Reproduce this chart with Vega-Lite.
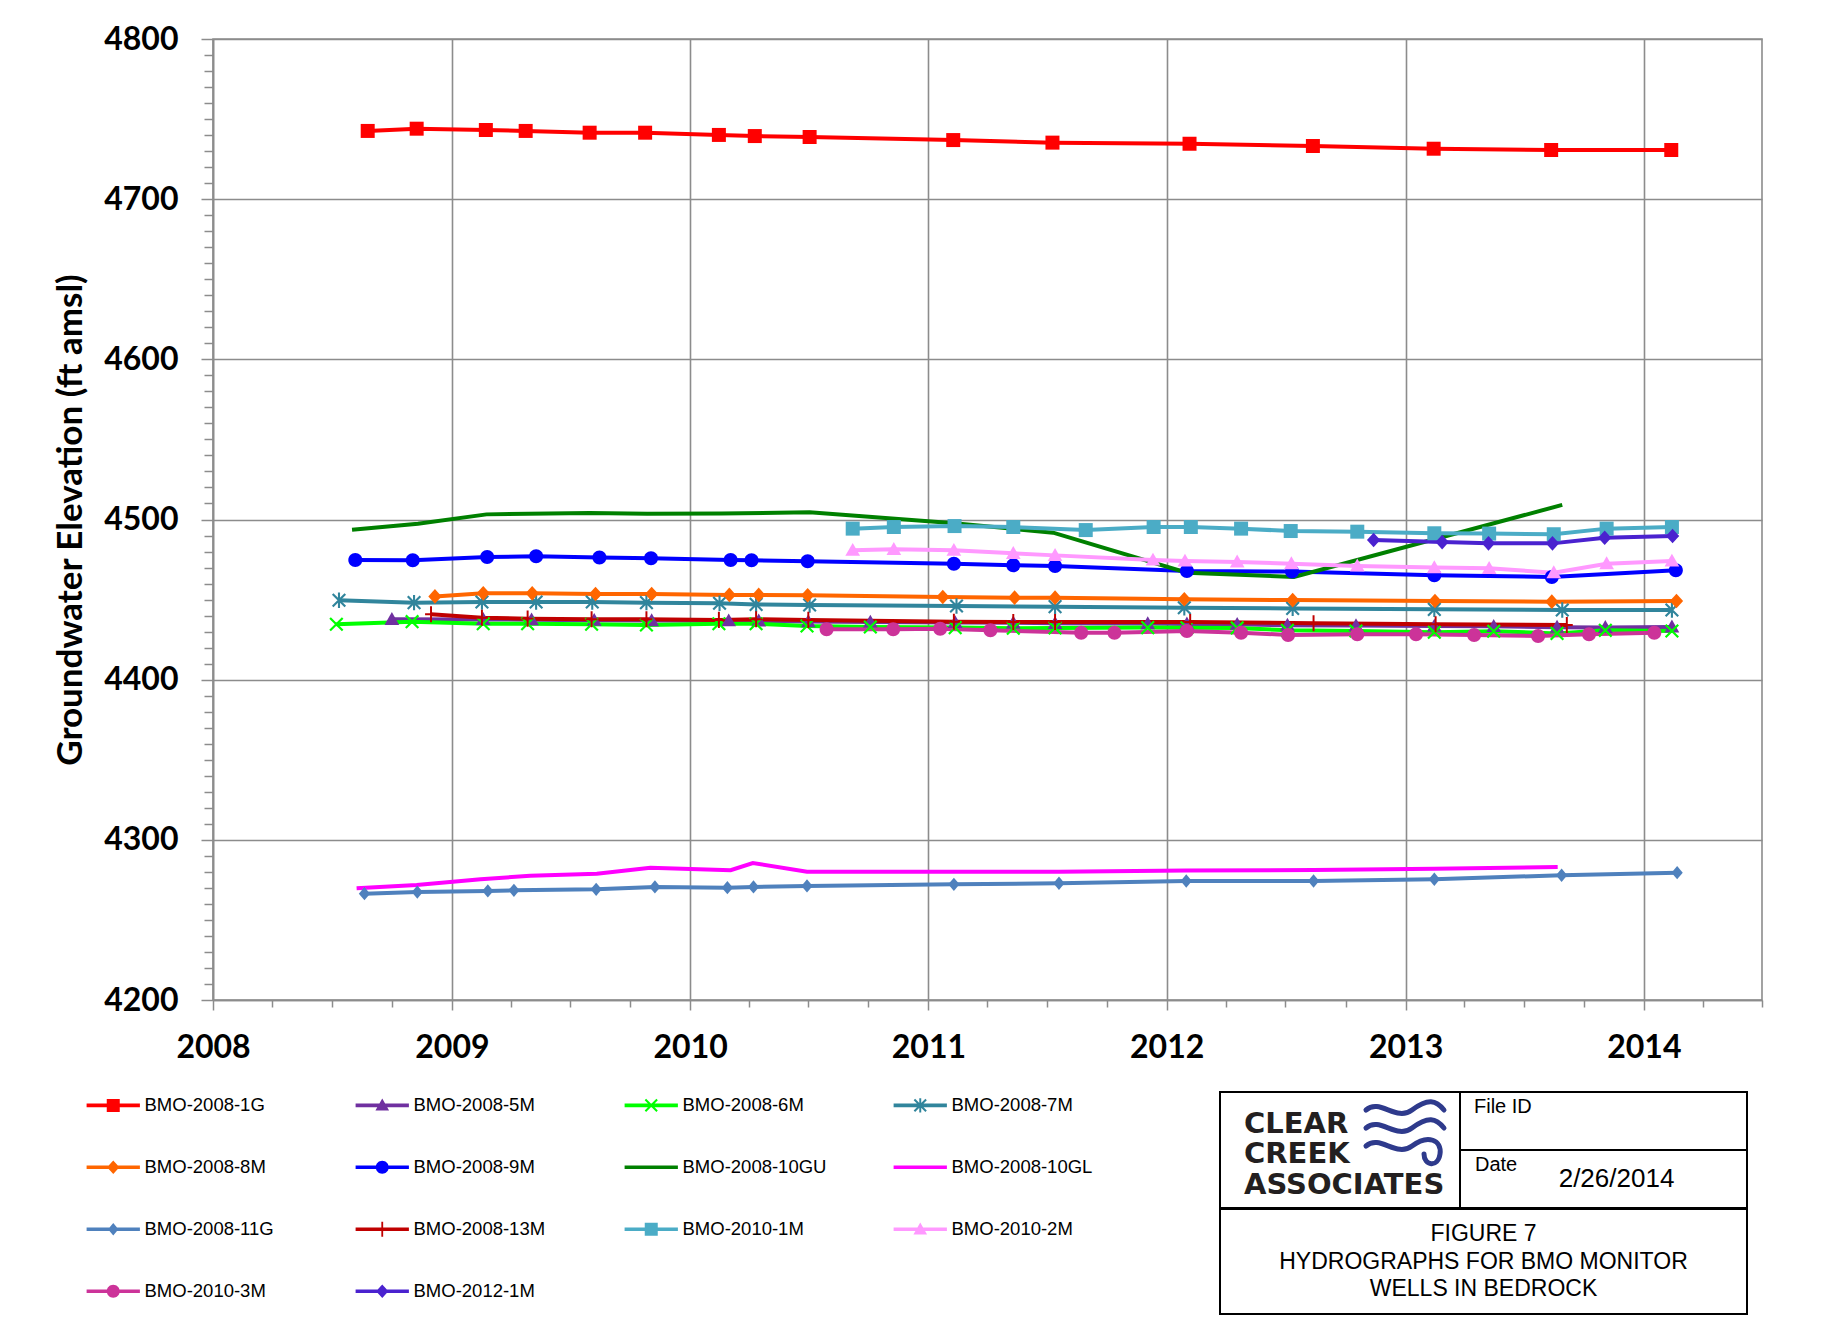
{
  "$schema": "https://vega.github.io/schema/vega-lite/v6.json",
  "background": "white",
  "padding": {"left": 52, "top": 22, "right": 20, "bottom": 10},
  "bounds": "flush",
  "spacing": 92,
  "config": {
    "view": {"stroke": null},
    "concat": {"spacing": 0},
    "font": "Liberation Sans"
  },
  "vconcat": [
    {
      "width": 1549,
      "height": 961,
      "view": {"stroke": "#8c8c8c", "strokeWidth": 1.6},
      "data": {"values": [
        {"well":"BMO-2008-1G","date":"2008-08-25","elev":4742.6},
        {"well":"BMO-2008-1G","date":"2008-11-08","elev":4744.0},
        {"well":"BMO-2008-1G","date":"2009-02-22","elev":4743.2},
        {"well":"BMO-2008-1G","date":"2009-04-24","elev":4742.6},
        {"well":"BMO-2008-1G","date":"2009-07-31","elev":4741.5},
        {"well":"BMO-2008-1G","date":"2009-10-24","elev":4741.5},
        {"well":"BMO-2008-1G","date":"2010-02-14","elev":4740.1},
        {"well":"BMO-2008-1G","date":"2010-04-10","elev":4739.4},
        {"well":"BMO-2008-1G","date":"2010-07-03","elev":4738.8},
        {"well":"BMO-2008-1G","date":"2011-02-08","elev":4736.9},
        {"well":"BMO-2008-1G","date":"2011-07-10","elev":4735.3},
        {"well":"BMO-2008-1G","date":"2012-02-05","elev":4734.6},
        {"well":"BMO-2008-1G","date":"2012-08-12","elev":4733.2},
        {"well":"BMO-2008-1G","date":"2013-02-13","elev":4731.5},
        {"well":"BMO-2008-1G","date":"2013-08-12","elev":4730.7},
        {"well":"BMO-2008-1G","date":"2014-02-12","elev":4730.7},

        {"well":"BMO-2008-5M","date":"2008-10-01","elev":4437.7},
        {"well":"BMO-2008-5M","date":"2009-02-18","elev":4437.6},
        {"well":"BMO-2008-5M","date":"2009-05-03","elev":4437.4},
        {"well":"BMO-2008-5M","date":"2009-08-07","elev":4437.1},
        {"well":"BMO-2008-5M","date":"2009-11-03","elev":4436.9},
        {"well":"BMO-2008-5M","date":"2010-03-01","elev":4436.8},
        {"well":"BMO-2008-5M","date":"2010-04-16","elev":4436.7},
        {"well":"BMO-2008-5M","date":"2010-07-01","elev":4436.3},
        {"well":"BMO-2008-5M","date":"2010-10-04","elev":4436.0},
        {"well":"BMO-2008-5M","date":"2011-02-11","elev":4435.7},
        {"well":"BMO-2008-5M","date":"2011-05-11","elev":4435.5},
        {"well":"BMO-2008-5M","date":"2011-07-14","elev":4435.2},
        {"well":"BMO-2008-5M","date":"2011-12-03","elev":4435.0},
        {"well":"BMO-2008-5M","date":"2012-02-01","elev":4434.8},
        {"well":"BMO-2008-5M","date":"2012-04-18","elev":4434.6},
        {"well":"BMO-2008-5M","date":"2012-07-04","elev":4434.0},
        {"well":"BMO-2008-5M","date":"2012-10-17","elev":4433.8},
        {"well":"BMO-2008-5M","date":"2013-02-14","elev":4433.5},
        {"well":"BMO-2008-5M","date":"2013-05-16","elev":4433.3},
        {"well":"BMO-2008-5M","date":"2013-08-21","elev":4432.8},
        {"well":"BMO-2008-5M","date":"2013-11-03","elev":4432.6},
        {"well":"BMO-2008-5M","date":"2014-02-13","elev":4432.9},

        {"well":"BMO-2008-6M","date":"2008-07-08","elev":4434.6},
        {"well":"BMO-2008-6M","date":"2008-11-01","elev":4436.2},
        {"well":"BMO-2008-6M","date":"2009-02-18","elev":4434.9},
        {"well":"BMO-2008-6M","date":"2009-04-27","elev":4434.9},
        {"well":"BMO-2008-6M","date":"2009-08-03","elev":4434.6},
        {"well":"BMO-2008-6M","date":"2009-10-26","elev":4434.1},
        {"well":"BMO-2008-6M","date":"2010-02-14","elev":4434.9},
        {"well":"BMO-2008-6M","date":"2010-04-12","elev":4434.9},
        {"well":"BMO-2008-6M","date":"2010-06-29","elev":4433.5},
        {"well":"BMO-2008-6M","date":"2010-10-04","elev":4432.9},
        {"well":"BMO-2008-6M","date":"2011-02-11","elev":4432.5},
        {"well":"BMO-2008-6M","date":"2011-05-11","elev":4432.1},
        {"well":"BMO-2008-6M","date":"2011-07-14","elev":4432.3},
        {"well":"BMO-2008-6M","date":"2011-12-03","elev":4432.5},
        {"well":"BMO-2008-6M","date":"2012-02-01","elev":4432.4},
        {"well":"BMO-2008-6M","date":"2012-04-18","elev":4432.3},
        {"well":"BMO-2008-6M","date":"2012-07-04","elev":4430.8},
        {"well":"BMO-2008-6M","date":"2012-10-17","elev":4430.4},
        {"well":"BMO-2008-6M","date":"2013-02-14","elev":4429.6},
        {"well":"BMO-2008-6M","date":"2013-05-16","elev":4430.2},
        {"well":"BMO-2008-6M","date":"2013-08-21","elev":4428.9},
        {"well":"BMO-2008-6M","date":"2013-11-03","elev":4430.8},
        {"well":"BMO-2008-6M","date":"2014-02-13","elev":4430.4},

        {"well":"BMO-2008-7M","date":"2008-07-12","elev":4449.6},
        {"well":"BMO-2008-7M","date":"2008-11-04","elev":4448.1},
        {"well":"BMO-2008-7M","date":"2009-02-16","elev":4448.5},
        {"well":"BMO-2008-7M","date":"2009-05-10","elev":4448.5},
        {"well":"BMO-2008-7M","date":"2009-08-04","elev":4448.5},
        {"well":"BMO-2008-7M","date":"2009-10-26","elev":4448.1},
        {"well":"BMO-2008-7M","date":"2010-02-15","elev":4447.7},
        {"well":"BMO-2008-7M","date":"2010-04-12","elev":4447.0},
        {"well":"BMO-2008-7M","date":"2010-07-03","elev":4446.6},
        {"well":"BMO-2008-7M","date":"2011-02-13","elev":4446.0},
        {"well":"BMO-2008-7M","date":"2011-07-14","elev":4445.6},
        {"well":"BMO-2008-7M","date":"2012-01-28","elev":4444.9},
        {"well":"BMO-2008-7M","date":"2012-07-12","elev":4444.5},
        {"well":"BMO-2008-7M","date":"2013-02-14","elev":4443.9},
        {"well":"BMO-2008-7M","date":"2013-08-29","elev":4443.5},
        {"well":"BMO-2008-7M","date":"2014-02-13","elev":4443.5},

        {"well":"BMO-2008-8M","date":"2008-12-06","elev":4452.0},
        {"well":"BMO-2008-8M","date":"2009-02-18","elev":4453.9},
        {"well":"BMO-2008-8M","date":"2009-05-04","elev":4453.9},
        {"well":"BMO-2008-8M","date":"2009-08-09","elev":4453.5},
        {"well":"BMO-2008-8M","date":"2009-11-03","elev":4453.5},
        {"well":"BMO-2008-8M","date":"2010-03-02","elev":4452.9},
        {"well":"BMO-2008-8M","date":"2010-04-16","elev":4452.9},
        {"well":"BMO-2008-8M","date":"2010-06-30","elev":4452.7},
        {"well":"BMO-2008-8M","date":"2011-01-23","elev":4451.6},
        {"well":"BMO-2008-8M","date":"2011-05-13","elev":4451.2},
        {"well":"BMO-2008-8M","date":"2011-07-14","elev":4451.2},
        {"well":"BMO-2008-8M","date":"2012-01-28","elev":4450.2},
        {"well":"BMO-2008-8M","date":"2012-07-12","elev":4449.7},
        {"well":"BMO-2008-8M","date":"2013-02-15","elev":4449.1},
        {"well":"BMO-2008-8M","date":"2013-08-13","elev":4448.7},
        {"well":"BMO-2008-8M","date":"2014-02-20","elev":4449.1},

        {"well":"BMO-2008-9M","date":"2008-08-06","elev":4474.7},
        {"well":"BMO-2008-9M","date":"2008-11-02","elev":4474.5},
        {"well":"BMO-2008-9M","date":"2009-02-24","elev":4476.6},
        {"well":"BMO-2008-9M","date":"2009-05-10","elev":4477.0},
        {"well":"BMO-2008-9M","date":"2009-08-15","elev":4476.2},
        {"well":"BMO-2008-9M","date":"2009-11-02","elev":4475.8},
        {"well":"BMO-2008-9M","date":"2010-03-04","elev":4474.7},
        {"well":"BMO-2008-9M","date":"2010-04-05","elev":4474.5},
        {"well":"BMO-2008-9M","date":"2010-06-30","elev":4473.9},
        {"well":"BMO-2008-9M","date":"2011-02-09","elev":4472.4},
        {"well":"BMO-2008-9M","date":"2011-05-11","elev":4471.4},
        {"well":"BMO-2008-9M","date":"2011-07-14","elev":4471.0},
        {"well":"BMO-2008-9M","date":"2012-02-01","elev":4467.9},
        {"well":"BMO-2008-9M","date":"2012-07-11","elev":4467.5},
        {"well":"BMO-2008-9M","date":"2013-02-14","elev":4465.2},
        {"well":"BMO-2008-9M","date":"2013-08-13","elev":4464.1},
        {"well":"BMO-2008-9M","date":"2014-02-19","elev":4468.3},

        {"well":"BMO-2008-10GU","date":"2008-08-01","elev":4493.6},
        {"well":"BMO-2008-10GU","date":"2008-11-10","elev":4497.4},
        {"well":"BMO-2008-10GU","date":"2009-02-23","elev":4503.2},
        {"well":"BMO-2008-10GU","date":"2009-07-31","elev":4504.1},
        {"well":"BMO-2008-10GU","date":"2009-10-27","elev":4503.6},
        {"well":"BMO-2008-10GU","date":"2010-02-17","elev":4503.7},
        {"well":"BMO-2008-10GU","date":"2010-07-03","elev":4504.5},
        {"well":"BMO-2008-10GU","date":"2011-02-10","elev":4497.6},
        {"well":"BMO-2008-10GU","date":"2011-07-11","elev":4491.8},
        {"well":"BMO-2008-10GU","date":"2012-02-01","elev":4466.8},
        {"well":"BMO-2008-10GU","date":"2012-07-14","elev":4464.1},
        {"well":"BMO-2008-10GU","date":"2013-08-29","elev":4509.1},

        {"well":"BMO-2008-10GL","date":"2008-08-08","elev":4269.7},
        {"well":"BMO-2008-10GL","date":"2008-11-08","elev":4271.8},
        {"well":"BMO-2008-10GL","date":"2009-02-14","elev":4275.4},
        {"well":"BMO-2008-10GL","date":"2009-05-01","elev":4277.6},
        {"well":"BMO-2008-10GL","date":"2009-08-11","elev":4278.9},
        {"well":"BMO-2008-10GL","date":"2009-11-01","elev":4282.6},
        {"well":"BMO-2008-10GL","date":"2010-03-04","elev":4281.0},
        {"well":"BMO-2008-10GL","date":"2010-04-07","elev":4285.5},
        {"well":"BMO-2008-10GL","date":"2010-06-29","elev":4280.1},
        {"well":"BMO-2008-10GL","date":"2011-02-09","elev":4280.1},
        {"well":"BMO-2008-10GL","date":"2011-07-20","elev":4280.1},
        {"well":"BMO-2008-10GL","date":"2012-01-31","elev":4280.8},
        {"well":"BMO-2008-10GL","date":"2012-08-13","elev":4281.2},
        {"well":"BMO-2008-10GL","date":"2013-02-14","elev":4282.0},
        {"well":"BMO-2008-10GL","date":"2013-08-22","elev":4283.0},

        {"well":"BMO-2008-11G","date":"2008-08-20","elev":4266.4},
        {"well":"BMO-2008-11G","date":"2008-11-09","elev":4267.4},
        {"well":"BMO-2008-11G","date":"2009-02-25","elev":4268.1},
        {"well":"BMO-2008-11G","date":"2009-04-06","elev":4268.5},
        {"well":"BMO-2008-11G","date":"2009-08-10","elev":4269.1},
        {"well":"BMO-2008-11G","date":"2009-11-08","elev":4270.6},
        {"well":"BMO-2008-11G","date":"2010-02-27","elev":4270.1},
        {"well":"BMO-2008-11G","date":"2010-04-08","elev":4270.6},
        {"well":"BMO-2008-11G","date":"2010-06-29","elev":4271.2},
        {"well":"BMO-2008-11G","date":"2011-02-09","elev":4272.2},
        {"well":"BMO-2008-11G","date":"2011-07-20","elev":4272.9},
        {"well":"BMO-2008-11G","date":"2012-01-31","elev":4274.3},
        {"well":"BMO-2008-11G","date":"2012-08-13","elev":4274.3},
        {"well":"BMO-2008-11G","date":"2013-02-14","elev":4275.4},
        {"well":"BMO-2008-11G","date":"2013-08-28","elev":4277.9},
        {"well":"BMO-2008-11G","date":"2014-02-21","elev":4279.5},

        {"well":"BMO-2008-13M","date":"2008-11-30","elev":4440.8},
        {"well":"BMO-2008-13M","date":"2009-02-16","elev":4438.7},
        {"well":"BMO-2008-13M","date":"2009-04-27","elev":4438.1},
        {"well":"BMO-2008-13M","date":"2009-08-03","elev":4437.7},
        {"well":"BMO-2008-13M","date":"2009-10-26","elev":4437.7},
        {"well":"BMO-2008-13M","date":"2010-02-14","elev":4437.3},
        {"well":"BMO-2008-13M","date":"2010-04-12","elev":4437.7},
        {"well":"BMO-2008-13M","date":"2010-07-01","elev":4437.3},
        {"well":"BMO-2008-13M","date":"2011-02-09","elev":4436.2},
        {"well":"BMO-2008-13M","date":"2011-05-11","elev":4436.0},
        {"well":"BMO-2008-13M","date":"2011-07-14","elev":4436.0},
        {"well":"BMO-2008-13M","date":"2012-02-06","elev":4436.0},
        {"well":"BMO-2008-13M","date":"2012-08-13","elev":4435.2},
        {"well":"BMO-2008-13M","date":"2013-02-16","elev":4434.6},
        {"well":"BMO-2008-13M","date":"2013-09-05","elev":4434.1},

        {"well":"BMO-2010-1M","date":"2010-09-07","elev":4494.3},
        {"well":"BMO-2010-1M","date":"2010-11-09","elev":4495.3},
        {"well":"BMO-2010-1M","date":"2011-02-10","elev":4495.9},
        {"well":"BMO-2010-1M","date":"2011-05-11","elev":4495.3},
        {"well":"BMO-2010-1M","date":"2011-08-30","elev":4493.4},
        {"well":"BMO-2010-1M","date":"2011-12-12","elev":4495.3},
        {"well":"BMO-2010-1M","date":"2012-02-07","elev":4495.3},
        {"well":"BMO-2010-1M","date":"2012-04-24","elev":4494.3},
        {"well":"BMO-2010-1M","date":"2012-07-09","elev":4492.8},
        {"well":"BMO-2010-1M","date":"2012-10-19","elev":4492.4},
        {"well":"BMO-2010-1M","date":"2013-02-14","elev":4491.4},
        {"well":"BMO-2010-1M","date":"2013-05-09","elev":4491.2},
        {"well":"BMO-2010-1M","date":"2013-08-16","elev":4490.8},
        {"well":"BMO-2010-1M","date":"2013-11-05","elev":4494.3},
        {"well":"BMO-2010-1M","date":"2014-02-13","elev":4495.3},

        {"well":"BMO-2010-2M","date":"2010-09-07","elev":4480.8},
        {"well":"BMO-2010-2M","date":"2010-11-09","elev":4481.4},
        {"well":"BMO-2010-2M","date":"2011-02-09","elev":4480.8},
        {"well":"BMO-2010-2M","date":"2011-05-11","elev":4478.9},
        {"well":"BMO-2010-2M","date":"2011-07-14","elev":4477.6},
        {"well":"BMO-2010-2M","date":"2011-12-11","elev":4474.7},
        {"well":"BMO-2010-2M","date":"2012-01-29","elev":4474.1},
        {"well":"BMO-2010-2M","date":"2012-04-18","elev":4473.5},
        {"well":"BMO-2010-2M","date":"2012-07-10","elev":4472.4},
        {"well":"BMO-2010-2M","date":"2012-10-19","elev":4471.0},
        {"well":"BMO-2010-2M","date":"2013-02-14","elev":4470.0},
        {"well":"BMO-2010-2M","date":"2013-05-09","elev":4469.5},
        {"well":"BMO-2010-2M","date":"2013-08-16","elev":4466.8},
        {"well":"BMO-2010-2M","date":"2013-11-05","elev":4472.4},
        {"well":"BMO-2010-2M","date":"2014-02-13","elev":4474.1},

        {"well":"BMO-2010-3M","date":"2010-07-29","elev":4431.5},
        {"well":"BMO-2010-3M","date":"2010-11-08","elev":4431.5},
        {"well":"BMO-2010-3M","date":"2011-01-19","elev":4431.8},
        {"well":"BMO-2010-3M","date":"2011-04-06","elev":4430.8},
        {"well":"BMO-2010-3M","date":"2011-08-23","elev":4429.3},
        {"well":"BMO-2010-3M","date":"2011-10-13","elev":4429.3},
        {"well":"BMO-2010-3M","date":"2012-02-01","elev":4430.4},
        {"well":"BMO-2010-3M","date":"2012-04-24","elev":4429.3},
        {"well":"BMO-2010-3M","date":"2012-07-05","elev":4427.9},
        {"well":"BMO-2010-3M","date":"2012-10-19","elev":4428.3},
        {"well":"BMO-2010-3M","date":"2013-01-17","elev":4428.3},
        {"well":"BMO-2010-3M","date":"2013-04-16","elev":4427.9},
        {"well":"BMO-2010-3M","date":"2013-07-23","elev":4427.3},
        {"well":"BMO-2010-3M","date":"2013-10-09","elev":4428.3},
        {"well":"BMO-2010-3M","date":"2014-01-17","elev":4429.3},

        {"well":"BMO-2012-1M","date":"2012-11-13","elev":4487.2},
        {"well":"BMO-2012-1M","date":"2013-02-26","elev":4485.9},
        {"well":"BMO-2012-1M","date":"2013-05-08","elev":4485.1},
        {"well":"BMO-2012-1M","date":"2013-08-14","elev":4485.1},
        {"well":"BMO-2012-1M","date":"2013-11-02","elev":4488.6},
        {"well":"BMO-2012-1M","date":"2014-02-14","elev":4489.7}
      ]},
      "encoding": {
        "x": {
          "field": "date", "type": "temporal",
          "scale": {"domain": [{"year": 2008, "month": 1, "date": 1}, {"year": 2014, "month": 7, "date": 1}]},
          "axis": {
            "title": null,
            "tickCount": {"interval": "month", "step": 3},
            "labelExpr": "month(datum.value) === 0 ? timeFormat(datum.value, '%Y') : ''",
            "labelFont": "Lato", "labelFontWeight": "bold", "labelFontSize": 32, "labelColor": "black",
            "labelPadding": 22, "labelOverlap": false, "labelFlush": false, "labelBound": false,
            "tickColor": "#8c8c8c", "tickWidth": 1.5,
            "tickSize": {"condition": {"test": "month(datum.value) === 0", "value": 10}, "value": 7},
            "grid": true, "gridColor": "#8c8c8c", "gridWidth": 1.6,
            "gridOpacity": {"condition": {"test": "month(datum.value) === 0", "value": 1}, "value": 0},
            "domainColor": "#8c8c8c", "domainWidth": 1.6
          }
        },
        "y": {
          "field": "elev", "type": "quantitative",
          "scale": {"domain": [4200, 4800], "nice": false, "zero": false},
          "axis": {
            "title": "Groundwater Elevation (ft amsl)",
            "titleFont": "Lato", "titleFontSize": 35, "titleFontWeight": "bold", "titleColor": "black", "titlePadding": 15,
            "tickCount": 60, "format": "d",
            "labelExpr": "datum.value % 100 === 0 ? datum.label : ''",
            "labelFont": "Lato", "labelFontWeight": "bold", "labelFontSize": 32, "labelColor": "black",
            "labelPadding": 23, "labelOverlap": false, "labelFlush": false, "labelBound": false,
            "tickColor": "#8c8c8c", "tickWidth": 1.5,
            "tickSize": {"condition": {"test": "datum.value % 100 === 0", "value": 12}, "value": 9},
            "grid": true, "gridColor": "#8c8c8c", "gridWidth": 1.6,
            "gridOpacity": {"condition": {"test": "datum.value % 100 === 0", "value": 1}, "value": 0},
            "domainColor": "#8c8c8c", "domainWidth": 1.6
          }
        },
        "color": {
          "field": "well", "type": "nominal",
          "scale": {
            "domain": ["BMO-2008-1G","BMO-2008-5M","BMO-2008-6M","BMO-2008-7M","BMO-2008-8M","BMO-2008-9M","BMO-2008-10GU","BMO-2008-10GL","BMO-2008-11G","BMO-2008-13M","BMO-2010-1M","BMO-2010-2M","BMO-2010-3M","BMO-2012-1M"],
            "range": ["#FF0000","#7030A0","#00FF00","#31859C","#FF6600","#0000FF","#008000","#FF00FF","#4F81BD","#C00000","#4BACC6","#FF99FF","#CC3399","#4A22CF"]
          },
          "legend": {
            "title": null,
            "orient": "none",
            "direction": "horizontal",
            "legendX": -109,
            "legendY": 1057,
            "columns": 4,
            "gridAlign": "all",
            "columnPadding": 66,
            "rowPadding": 43,
            "padding": 0,
            "symbolSize": 169,
            "symbolStrokeWidth": 0,
            "labelFont": "Liberation Sans", "labelFontSize": 18.5, "labelColor": "black",
            "labelOffset": 22, "labelLimit": 400,
            "encoding": {
              "symbols": {
                "shape": {"value": {"expr": "'M-4.1,-0.27H4.1V0.27H-4.1Z' + ['M-1,-1H1V1H-1Z','M0,-1.05L1.05,0.8L-1.05,0.8Z','M-0.79,-1.01L1.01,0.79L0.79,1.01L-1.01,-0.79ZM-0.79,1.01L-1.01,0.79L0.79,-1.01L1.01,-0.79Z','M-0.79,-1.01L1.01,0.79L0.79,1.01L-1.01,-0.79ZM-0.79,1.01L-1.01,0.79L0.79,-1.01L1.01,-0.79ZM-0.15,-1.1H0.15V1.1H-0.15Z','M0,-1.05L0.95,0L0,1.05L-0.95,0Z','M-1,0A1,1,0,1,1,1,0A1,1,0,1,1,-1,0Z','','','M0,-0.95L0.8,0L0,0.95L-0.8,0Z','M-0.14,-1.15H0.14V1.15H-0.14ZM-0.85,-0.14H0.85V0.14H-0.85Z','M-1,-1H1V1H-1Z','M0,-1.05L1.05,0.8L-1.05,0.8Z','M-1,0A1,1,0,1,1,1,0A1,1,0,1,1,-1,0Z','M0,-1.05L0.95,0L0,1.05L-0.95,0Z'][indexof(['BMO-2008-1G','BMO-2008-5M','BMO-2008-6M','BMO-2008-7M','BMO-2008-8M','BMO-2008-9M','BMO-2008-10GU','BMO-2008-10GL','BMO-2008-11G','BMO-2008-13M','BMO-2010-1M','BMO-2010-2M','BMO-2010-3M','BMO-2012-1M'], datum.value)]"}},
                "fill": {"value": {"expr": "['#FF0000','#7030A0','#00FF00','#31859C','#FF6600','#0000FF','#008000','#FF00FF','#4F81BD','#C00000','#4BACC6','#FF99FF','#CC3399','#4A22CF'][indexof(['BMO-2008-1G','BMO-2008-5M','BMO-2008-6M','BMO-2008-7M','BMO-2008-8M','BMO-2008-9M','BMO-2008-10GU','BMO-2008-10GL','BMO-2008-11G','BMO-2008-13M','BMO-2010-1M','BMO-2010-2M','BMO-2010-3M','BMO-2012-1M'], datum.value)]"}},
                "fillOpacity": {"value": 1},
                "opacity": {"value": 1},
                "strokeWidth": {"value": 0}
              }
            }
          }
        }
      },
      "layer": [
        {"mark": {"type": "line", "strokeWidth": 4}},
        {
          "transform": [{"filter": "datum.well !== 'BMO-2008-10GU' && datum.well !== 'BMO-2008-10GL'"}],
          "mark": {"type": "point", "filled": true, "size": 196, "opacity": 1, "strokeWidth": 0},
          "encoding": {
            "shape": {
              "field": "well", "type": "nominal", "legend": null,
              "scale": {
                "domain": ["BMO-2008-1G","BMO-2008-5M","BMO-2008-6M","BMO-2008-7M","BMO-2008-8M","BMO-2008-9M","BMO-2008-11G","BMO-2008-13M","BMO-2010-1M","BMO-2010-2M","BMO-2010-3M","BMO-2012-1M"],
                "range": ["M-1,-1H1V1H-1Z","M0,-1.05L1.05,0.8L-1.05,0.8Z","M-0.79,-1.01L1.01,0.79L0.79,1.01L-1.01,-0.79ZM-0.79,1.01L-1.01,0.79L0.79,-1.01L1.01,-0.79Z","M-0.79,-1.01L1.01,0.79L0.79,1.01L-1.01,-0.79ZM-0.79,1.01L-1.01,0.79L0.79,-1.01L1.01,-0.79ZM-0.15,-1.1H0.15V1.1H-0.15Z","M0,-1.05L0.95,0L0,1.05L-0.95,0Z","M-1,0A1,1,0,1,1,1,0A1,1,0,1,1,-1,0Z","M0,-0.95L0.8,0L0,0.95L-0.8,0Z","M-0.14,-1.15H0.14V1.15H-0.14ZM-0.85,-0.14H0.85V0.14H-0.85Z","M-1,-1H1V1H-1Z","M0,-1.05L1.05,0.8L-1.05,0.8Z","M-1,0A1,1,0,1,1,1,0A1,1,0,1,1,-1,0Z","M0,-1.05L0.95,0L0,1.05L-0.95,0Z"]
              }
            }
          }
        }
      ]
    },
    {
      "bounds": "flush",
      "spacing": 0,
      "hconcat": [
        {
          "width": 1007, "height": 221,
          "data": {"values": []},
          "mark": "point"
        },
        {
          "bounds": "full",
          "spacing": -8,
          "vconcat": [
            {
              "bounds": "flush",
              "spacing": 0,
              "hconcat": [
                {
                  "width": 240, "height": 116,
                  "view": {"stroke": "black", "strokeWidth": 2},
                  "title": {"text": ["CLEAR", "CREEK", "ASSOCIATES"], "orient": "top", "anchor": "start", "frame": "group", "baseline": "top", "offset": -108, "dx": 24, "font": "DejaVu Sans", "fontWeight": "bold", "fontSize": 29, "lineHeight": 30.5, "color": "#231f20"},
                  "data": {"values": [{"logo": "wave"}]},
                  "mark": {
                    "type": "point", "filled": false, "size": 4, "opacity": 1,
                    "stroke": "#2e3a8c", "strokeWidth": 5, "strokeCap": "round",
                    "shape": "M26,-40C40,-52 56,-28 72,-40S96,-50 104,-40M26,-22C40,-34 56,-10 72,-22S96,-32 104,-22M26,-4C40,-16 56,8 72,-4S102,-10 100,4S84,16 84,4"
                  }
                },
                {
                  "bounds": "flush",
                  "spacing": 0,
                  "vconcat": [
                    {
                      "width": 287, "height": 58,
                      "view": {"stroke": "black", "strokeWidth": 2},
                      "title": {"text": "File ID", "orient": "top", "anchor": "start", "frame": "group", "baseline": "top", "offset": -25, "dx": 14, "font": "Liberation Sans", "fontWeight": "normal", "fontSize": 20, "color": "black"},
                      "data": {"values": []},
                      "mark": "text"
                    },
                    {
                      "width": 287, "height": 58,
                      "view": {"stroke": "black", "strokeWidth": 2},
                      "title": {"text": "Date", "orient": "top", "anchor": "start", "frame": "group", "baseline": "top", "offset": -25, "dx": 15, "font": "Liberation Sans", "fontWeight": "normal", "fontSize": 20, "color": "black"},
                      "data": {"values": [{"d": "2/26/2014"}]},
                      "mark": {"type": "text", "font": "Liberation Sans", "fontSize": 26, "color": "black", "dx": 13, "baseline": "middle", "align": "center"},
                      "encoding": {"text": {"field": "d"}}
                    }
                  ]
                }
              ]
            },
            {
              "width": 527, "height": 105,
              "view": {"stroke": "black", "strokeWidth": 2},
              "data": {"values": [{"t": "FIGURE 7\nHYDROGRAPHS FOR BMO MONITOR\nWELLS IN BEDROCK"}]},
              "mark": {"type": "text", "font": "Liberation Sans", "fontSize": 23, "lineHeight": 27.5, "lineBreak": "\n", "color": "black", "baseline": "middle", "align": "center", "dy": -27.5},
              "encoding": {"text": {"field": "t"}}
            }
          ]
        }
      ]
    }
  ]
}
